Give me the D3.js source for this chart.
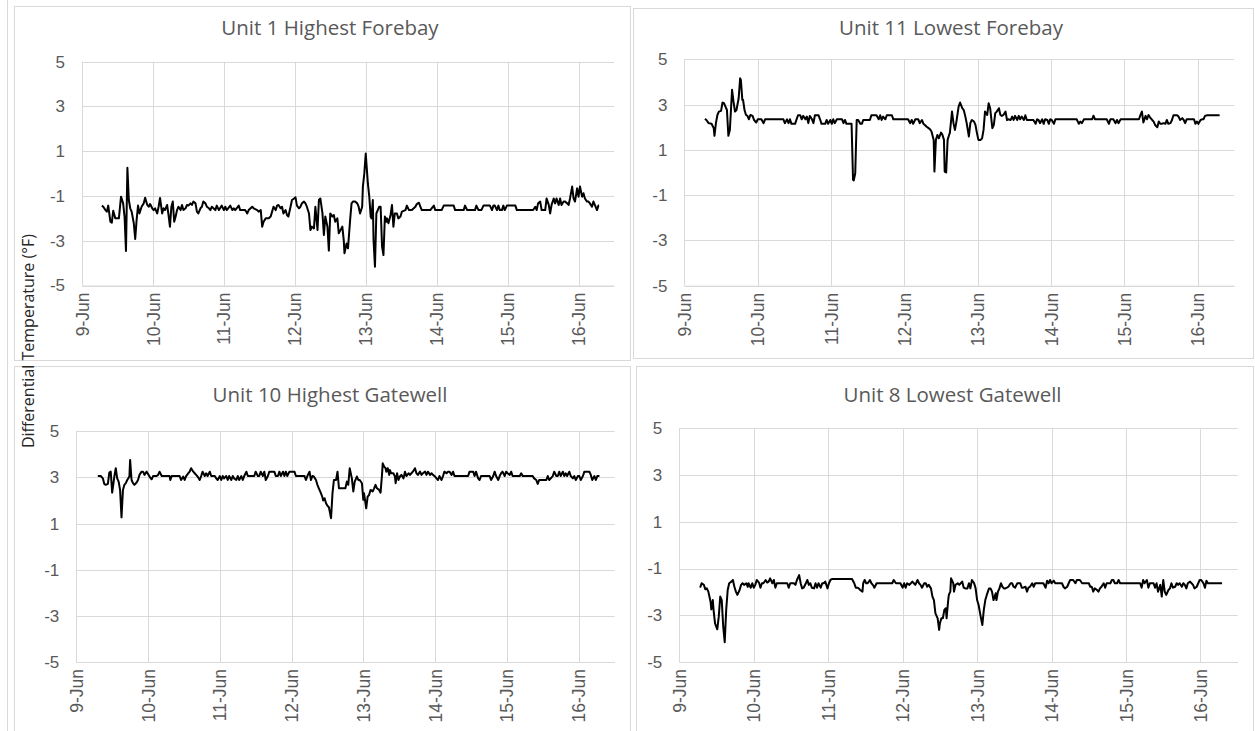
<!DOCTYPE html>
<html>
<head>
<meta charset="utf-8">
<script src="https://cdn.jsdelivr.net/npm/d3@7"></script>
<style>
  body { margin: 0; background: #fff; }
  svg { display: block; font-family: "Open Sans", "Liberation Sans", sans-serif; }
</style>
</head>
<body>
<div id="chart"></div>
<script>
// Tick values and labels (days of June)
const dayTicks = [9, 10, 11, 12, 13, 14, 15, 16];
const dayLabels = ["9-Jun", "10-Jun", "11-Jun", "12-Jun", "13-Jun", "14-Jun", "15-Jun", "16-Jun"];
const yTicks = [-5, -3, -1, 1, 3, 5];
const titles = ["Unit 1 Highest Forebay", "Unit 11 Lowest Forebay", "Unit 10 Highest Gatewell", "Unit 8 Lowest Gatewell"];
const yTitle = "Differential Temperature (°F)";

// Series: [day of June (fractional), differential temp °F]
const unit1Forebay = [[9.28,-1.43],[9.30,-1.48],[9.33,-1.63],[9.35,-1.70],[9.37,-1.43],[9.40,-2.15],[9.42,-2.19],[9.44,-1.66],[9.47,-2.00],[9.52,-2.00],[9.55,-1.03],[9.58,-1.33],[9.60,-1.92],[9.62,-3.46],[9.64,0.26],[9.66,-1.18],[9.68,-1.55],[9.70,-1.70],[9.73,-2.22],[9.75,-2.92],[9.77,-2.07],[9.79,-1.43],[9.81,-1.78],[9.84,-1.48],[9.87,-1.33],[9.89,-1.08],[9.92,-1.40],[9.94,-1.48],[9.96,-1.36],[9.99,-1.55],[10.01,-1.63],[10.03,-1.55],[10.06,-1.78],[10.08,-1.48],[10.10,-1.09],[10.13,-1.78],[10.15,-1.55],[10.17,-1.63],[10.20,-1.40],[10.22,-1.85],[10.24,-2.37],[10.26,-1.48],[10.28,-1.25],[10.30,-2.15],[10.32,-1.92],[10.34,-1.63],[10.36,-1.48],[10.39,-1.63],[10.41,-1.40],[10.43,-1.63],[10.46,-1.55],[10.48,-1.40],[10.50,-1.43],[10.53,-1.33],[10.55,-1.40],[10.57,-1.25],[10.60,-1.33],[10.62,-1.70],[10.64,-1.78],[10.67,-1.55],[10.69,-1.48],[10.71,-1.25],[10.74,-1.33],[10.76,-1.48],[10.79,-1.55],[10.81,-1.63],[10.83,-1.48],[10.88,-1.63],[10.90,-1.43],[10.93,-1.63],[10.97,-1.43],[11.00,-1.63],[11.02,-1.48],[11.04,-1.63],[11.09,-1.43],[11.12,-1.63],[11.14,-1.55],[11.16,-1.63],[11.21,-1.43],[11.23,-1.63],[11.30,-1.63],[11.33,-1.78],[11.35,-1.63],[11.40,-1.48],[11.42,-1.55],[11.47,-1.63],[11.49,-1.70],[11.52,-1.63],[11.54,-2.37],[11.56,-2.15],[11.59,-2.00],[11.63,-2.00],[11.66,-1.92],[11.68,-1.70],[11.70,-1.48],[11.73,-1.63],[11.75,-1.43],[11.77,-1.40],[11.80,-1.55],[11.82,-1.48],[11.84,-1.78],[11.87,-1.63],[11.89,-1.85],[11.91,-1.92],[11.94,-1.48],[11.96,-1.18],[11.99,-1.11],[12.01,-1.06],[12.03,-1.43],[12.06,-1.55],[12.08,-1.48],[12.10,-1.33],[12.13,-1.25],[12.15,-1.33],[12.17,-1.48],[12.20,-1.78],[12.22,-2.52],[12.24,-2.37],[12.27,-2.45],[12.29,-1.48],[12.32,-2.52],[12.34,-1.18],[12.36,-1.11],[12.39,-1.78],[12.41,-2.74],[12.43,-1.92],[12.46,-2.37],[12.48,-3.44],[12.50,-1.78],[12.53,-1.92],[12.55,-1.85],[12.57,-2.15],[12.60,-2.00],[12.62,-2.67],[12.67,-2.37],[12.69,-2.97],[12.70,-3.56],[12.73,-3.12],[12.75,-3.34],[12.78,-2.07],[12.80,-1.33],[12.82,-1.25],[12.85,-1.25],[12.88,-1.33],[12.90,-1.48],[12.92,-1.78],[12.95,-1.48],[12.96,-0.58],[12.98,0.01],[13.00,0.90],[13.02,0.01],[13.03,-0.44],[13.05,-1.03],[13.07,-1.92],[13.08,-2.00],[13.10,-1.18],[13.11,-2.97],[13.13,-4.16],[13.15,-1.78],[13.17,-1.63],[13.19,-1.48],[13.21,-1.48],[13.23,-3.26],[13.25,-3.64],[13.27,-1.92],[13.29,-2.15],[13.30,-2.00],[13.32,-2.22],[13.35,-1.85],[13.37,-1.40],[13.39,-2.37],[13.41,-1.78],[13.44,-1.78],[13.46,-2.00],[13.49,-1.92],[13.51,-1.70],[13.56,-1.63],[13.58,-1.43],[13.61,-1.63],[13.65,-1.63],[13.70,-1.48],[13.72,-1.36],[13.75,-1.30],[13.77,-1.48],[13.79,-1.63],[13.91,-1.63],[13.96,-1.43],[13.98,-1.63],[14.07,-1.63],[14.10,-1.43],[14.24,-1.43],[14.26,-1.63],[14.38,-1.63],[14.40,-1.43],[14.43,-1.63],[14.54,-1.63],[14.56,-1.43],[14.59,-1.63],[14.63,-1.63],[14.66,-1.43],[14.75,-1.43],[14.78,-1.63],[14.80,-1.43],[14.82,-1.43],[14.85,-1.63],[14.87,-1.43],[14.89,-1.63],[14.92,-1.63],[14.94,-1.43],[14.96,-1.63],[14.99,-1.43],[15.11,-1.43],[15.13,-1.63],[15.36,-1.63],[15.39,-1.48],[15.41,-1.63],[15.43,-1.33],[15.46,-1.25],[15.48,-1.63],[15.53,-1.63],[15.55,-1.11],[15.58,-1.40],[15.60,-1.78],[15.62,-1.40],[15.65,-1.11],[15.67,-1.33],[15.69,-1.11],[15.72,-1.40],[15.74,-1.11],[15.76,-1.40],[15.79,-1.25],[15.81,-1.25],[15.84,-1.33],[15.86,-1.40],[15.88,-1.11],[15.91,-0.58],[15.93,-1.11],[15.95,-1.25],[15.98,-0.66],[16.00,-1.03],[16.02,-0.58],[16.05,-1.03],[16.07,-0.88],[16.09,-1.11],[16.12,-1.25],[16.14,-1.25],[16.16,-1.33],[16.19,-1.48],[16.21,-1.25],[16.23,-1.40],[16.26,-1.63],[16.28,-1.43],[16.29,-1.43]];

const unit11Forebay = [[9.28,2.37],[9.30,2.32],[9.33,2.18],[9.37,2.15],[9.40,1.96],[9.41,1.62],[9.43,2.18],[9.45,2.54],[9.47,2.69],[9.50,2.72],[9.52,3.09],[9.54,3.06],[9.56,2.91],[9.58,2.76],[9.60,1.62],[9.62,1.88],[9.65,3.65],[9.67,3.13],[9.69,2.69],[9.71,2.76],[9.74,3.28],[9.76,4.16],[9.77,4.09],[9.79,3.21],[9.80,3.21],[9.82,2.76],[9.84,2.54],[9.86,2.50],[9.88,2.35],[9.90,2.54],[9.93,2.50],[9.95,2.32],[9.98,2.21],[10.00,2.35],[10.05,2.35],[10.08,2.18],[10.10,2.35],[10.35,2.35],[10.37,2.18],[10.40,2.35],[10.42,2.18],[10.44,2.35],[10.46,2.15],[10.51,2.15],[10.53,2.35],[10.55,2.53],[10.58,2.53],[10.60,2.35],[10.62,2.50],[10.65,2.35],[10.67,2.47],[10.69,2.18],[10.71,2.50],[10.74,2.35],[10.76,2.18],[10.78,2.53],[10.83,2.53],[10.85,2.35],[10.87,2.15],[10.92,2.15],[10.94,2.32],[10.96,2.15],[10.99,2.32],[11.01,2.15],[11.03,2.35],[11.05,2.18],[11.08,2.35],[11.15,2.35],[11.17,2.18],[11.19,2.32],[11.21,2.15],[11.28,2.15],[11.30,-0.32],[11.31,-0.35],[11.33,-0.03],[11.35,2.32],[11.37,2.32],[11.40,2.15],[11.42,2.15],[11.44,2.32],[11.53,2.32],[11.55,2.53],[11.62,2.53],[11.65,2.35],[11.67,2.53],[11.69,2.32],[11.71,2.47],[11.74,2.35],[11.76,2.53],[11.83,2.53],[11.85,2.35],[12.05,2.35],[12.08,2.18],[12.10,2.32],[12.12,2.15],[12.15,2.35],[12.19,2.35],[12.21,2.18],[12.24,2.32],[12.26,2.15],[12.28,2.10],[12.30,2.03],[12.33,1.96],[12.35,1.91],[12.37,1.81],[12.40,1.44],[12.41,0.04],[12.43,1.44],[12.45,1.66],[12.47,1.51],[12.50,1.76],[12.52,1.66],[12.54,1.44],[12.55,0.04],[12.57,0.00],[12.59,1.44],[12.61,1.66],[12.62,1.74],[12.65,2.69],[12.67,2.18],[12.69,1.88],[12.71,2.25],[12.74,2.91],[12.76,3.09],[12.79,2.84],[12.81,2.76],[12.83,2.50],[12.85,2.18],[12.88,1.59],[12.90,2.18],[12.92,2.32],[12.95,2.25],[12.97,2.10],[12.99,1.74],[13.01,1.44],[13.04,1.44],[13.06,1.51],[13.08,1.88],[13.10,2.69],[13.13,2.54],[13.15,3.06],[13.17,2.84],[13.20,1.96],[13.22,2.10],[13.24,2.62],[13.26,2.69],[13.29,2.84],[13.31,2.54],[13.33,2.50],[13.35,2.54],[13.38,2.69],[13.40,2.32],[13.42,2.35],[13.45,2.32],[13.47,2.47],[13.49,2.32],[13.51,2.50],[13.54,2.32],[13.56,2.50],[13.58,2.35],[13.60,2.47],[13.63,2.32],[13.65,2.53],[13.67,2.32],[13.76,2.32],[13.79,2.15],[13.81,2.35],[13.83,2.32],[13.85,2.18],[13.88,2.35],[13.90,2.15],[13.92,2.35],[13.95,2.32],[13.97,2.15],[13.99,2.35],[14.01,2.32],[14.04,2.15],[14.06,2.35],[14.35,2.35],[14.38,2.15],[14.40,2.25],[14.42,2.18],[14.45,2.35],[14.56,2.35],[14.58,2.51],[14.60,2.35],[14.76,2.35],[14.79,2.15],[14.81,2.35],[14.85,2.35],[14.88,2.18],[14.90,2.32],[14.92,2.18],[14.95,2.35],[15.20,2.35],[15.22,2.54],[15.24,2.69],[15.26,2.21],[15.29,2.50],[15.31,2.35],[15.33,2.54],[15.35,2.44],[15.38,2.32],[15.40,2.25],[15.42,2.10],[15.45,2.00],[15.47,2.25],[15.49,2.15],[15.51,2.15],[15.54,2.18],[15.56,2.15],[15.58,2.32],[15.60,2.15],[15.63,2.18],[15.65,2.32],[15.67,2.53],[15.72,2.53],[15.74,2.47],[15.76,2.32],[15.79,2.40],[15.81,2.32],[15.83,2.18],[15.85,2.35],[15.95,2.35],[15.97,2.15],[15.99,2.25],[16.01,2.15],[16.04,2.32],[16.06,2.35],[16.08,2.35],[16.10,2.50],[16.13,2.53],[16.30,2.53]];

const unit10Gatewell = [[9.30,3.06],[9.34,3.06],[9.37,2.96],[9.39,2.72],[9.41,2.68],[9.44,2.72],[9.46,3.21],[9.48,3.25],[9.50,2.34],[9.53,3.04],[9.55,3.40],[9.57,2.96],[9.59,2.82],[9.61,2.46],[9.63,1.27],[9.65,2.46],[9.67,2.68],[9.69,2.75],[9.71,2.89],[9.74,3.04],[9.75,3.76],[9.77,2.89],[9.79,2.75],[9.81,2.68],[9.84,2.78],[9.86,2.89],[9.88,3.11],[9.91,3.25],[9.93,3.25],[9.95,3.11],[9.98,3.25],[10.00,3.15],[10.02,3.04],[10.05,2.92],[10.07,3.06],[10.12,3.06],[10.14,3.11],[10.16,3.25],[10.19,3.06],[10.30,3.06],[10.31,2.89],[10.33,3.06],[10.44,3.06],[10.46,2.89],[10.49,3.04],[10.51,2.89],[10.53,3.06],[10.56,3.18],[10.58,3.25],[10.60,3.40],[10.63,3.25],[10.65,3.18],[10.67,3.11],[10.69,3.04],[10.72,2.89],[10.74,3.06],[10.76,3.25],[10.79,3.06],[10.81,3.18],[10.83,3.06],[10.86,3.25],[10.88,3.06],[10.93,3.06],[10.95,2.96],[10.97,2.89],[11.00,3.06],[11.02,2.89],[11.04,3.06],[11.06,2.96],[11.09,3.06],[11.11,2.89],[11.13,3.06],[11.16,2.89],[11.18,3.06],[11.20,2.96],[11.23,2.89],[11.25,3.06],[11.27,2.89],[11.30,3.06],[11.32,2.89],[11.34,3.06],[11.37,3.25],[11.39,3.06],[11.48,3.06],[11.50,3.25],[11.53,3.06],[11.55,3.06],[11.57,3.25],[11.60,3.06],[11.62,3.25],[11.64,2.89],[11.67,3.06],[11.69,3.25],[11.76,3.25],[11.78,3.06],[11.81,3.06],[11.83,3.25],[11.85,3.06],[11.88,3.25],[11.90,3.06],[11.92,3.25],[11.94,3.06],[11.97,3.25],[12.04,3.25],[12.06,3.06],[12.18,3.06],[12.20,2.89],[12.22,3.06],[12.25,3.25],[12.27,2.89],[12.29,3.06],[12.31,3.04],[12.34,2.89],[12.36,2.68],[12.38,2.53],[12.41,2.31],[12.43,2.14],[12.44,2.00],[12.46,2.10],[12.48,1.88],[12.50,1.77],[12.52,1.71],[12.55,1.23],[12.57,2.31],[12.59,2.89],[12.62,2.89],[12.64,3.25],[12.66,2.53],[12.72,2.53],[12.75,2.53],[12.77,2.82],[12.79,2.68],[12.81,3.40],[12.84,2.96],[12.86,2.39],[12.88,2.82],[12.91,3.04],[12.93,2.89],[12.95,2.89],[12.98,2.75],[13.00,2.03],[13.01,2.31],[13.04,1.66],[13.06,2.17],[13.08,2.24],[13.10,2.46],[13.13,2.39],[13.15,2.53],[13.17,2.68],[13.19,2.53],[13.22,2.46],[13.24,2.34],[13.26,3.11],[13.27,3.61],[13.29,3.47],[13.31,3.40],[13.32,3.25],[13.34,3.40],[13.36,3.11],[13.37,3.32],[13.39,3.18],[13.42,3.18],[13.44,3.04],[13.45,2.75],[13.47,3.18],[13.49,2.89],[13.51,3.04],[13.53,3.11],[13.56,2.96],[13.58,3.25],[13.60,3.06],[13.63,3.18],[13.65,3.11],[13.67,3.18],[13.69,3.25],[13.72,3.40],[13.74,3.18],[13.76,3.11],[13.79,3.25],[13.81,3.11],[13.83,3.18],[13.86,3.25],[13.88,3.11],[13.90,3.25],[13.93,3.11],[13.95,3.18],[13.97,3.11],[14.00,3.04],[14.02,2.96],[14.04,2.89],[14.06,3.06],[14.09,2.89],[14.11,3.06],[14.13,3.25],[14.16,3.18],[14.18,3.25],[14.20,3.25],[14.23,3.11],[14.25,3.25],[14.27,3.06],[14.46,3.06],[14.48,3.25],[14.53,3.25],[14.55,3.06],[14.57,3.25],[14.60,2.96],[14.62,2.89],[14.64,3.06],[14.76,3.06],[14.78,2.89],[14.81,3.06],[14.83,3.25],[14.85,3.06],[14.88,2.89],[14.90,3.06],[14.92,3.18],[14.94,3.25],[14.97,3.06],[14.99,3.25],[15.01,3.18],[15.04,3.11],[15.06,3.25],[15.08,3.06],[15.18,3.06],[15.20,3.18],[15.22,3.06],[15.36,3.06],[15.38,2.96],[15.41,2.89],[15.43,2.72],[15.45,2.89],[15.55,2.89],[15.57,3.06],[15.59,2.89],[15.64,3.06],[15.66,3.25],[15.69,3.06],[15.71,3.06],[15.73,3.25],[15.75,3.06],[15.78,3.25],[15.80,3.06],[15.82,3.18],[15.84,3.06],[15.87,3.25],[15.89,3.06],[15.92,2.96],[15.94,3.06],[15.96,2.89],[15.99,3.06],[16.01,3.06],[16.03,2.89],[16.06,3.06],[16.08,3.25],[16.15,3.25],[16.17,3.11],[16.19,2.89],[16.22,3.06],[16.24,2.89],[16.26,3.06],[16.29,3.06]];

const unit8Gatewell = [[9.28,-1.82],[9.30,-1.63],[9.33,-1.70],[9.35,-1.89],[9.37,-1.85],[9.39,-1.99],[9.42,-2.42],[9.43,-2.75],[9.45,-2.35],[9.46,-2.77],[9.48,-3.35],[9.51,-3.60],[9.53,-3.06],[9.55,-2.20],[9.57,-2.35],[9.59,-3.49],[9.61,-4.15],[9.63,-2.77],[9.65,-1.92],[9.67,-1.63],[9.70,-1.56],[9.72,-1.49],[9.74,-1.78],[9.76,-1.99],[9.78,-2.13],[9.81,-1.92],[9.83,-1.70],[9.85,-1.63],[9.87,-1.70],[9.90,-1.63],[9.92,-1.78],[9.93,-1.63],[9.96,-1.82],[9.98,-1.63],[10.00,-1.82],[10.02,-1.70],[10.04,-1.49],[10.07,-1.60],[10.09,-1.82],[10.11,-1.63],[10.13,-1.63],[10.16,-1.49],[10.18,-1.60],[10.20,-1.56],[10.22,-1.42],[10.25,-1.63],[10.27,-1.49],[10.29,-1.82],[10.31,-1.63],[10.45,-1.63],[10.47,-1.82],[10.49,-1.63],[10.54,-1.63],[10.56,-1.70],[10.58,-1.49],[10.61,-1.28],[10.63,-1.63],[10.65,-1.85],[10.67,-1.82],[10.70,-1.63],[10.72,-1.49],[10.74,-1.70],[10.76,-1.63],[10.78,-1.82],[10.81,-1.85],[10.83,-1.63],[10.85,-1.82],[10.87,-1.63],[10.90,-1.82],[10.92,-1.63],[10.94,-1.63],[10.96,-1.56],[10.99,-1.85],[11.01,-1.63],[11.03,-1.49],[11.05,-1.45],[11.32,-1.45],[11.35,-1.63],[11.37,-1.82],[11.39,-1.82],[11.41,-1.85],[11.43,-1.92],[11.46,-1.99],[11.47,-1.63],[11.49,-1.49],[11.51,-1.63],[11.53,-1.63],[11.56,-1.49],[11.58,-1.63],[11.60,-1.70],[11.62,-1.82],[11.65,-1.63],[11.86,-1.63],[11.88,-1.49],[11.91,-1.63],[11.97,-1.63],[12.00,-1.82],[12.02,-1.63],[12.04,-1.82],[12.06,-1.63],[12.09,-1.70],[12.11,-1.63],[12.13,-1.56],[12.15,-1.63],[12.17,-1.70],[12.20,-1.49],[12.22,-1.63],[12.24,-1.70],[12.26,-1.82],[12.29,-1.63],[12.31,-1.63],[12.33,-1.78],[12.35,-1.70],[12.38,-1.85],[12.40,-2.20],[12.42,-2.35],[12.44,-2.92],[12.47,-3.13],[12.49,-3.63],[12.50,-3.35],[12.52,-3.13],[12.54,-3.13],[12.56,-2.77],[12.58,-2.70],[12.59,-3.13],[12.61,-2.42],[12.62,-2.13],[12.64,-1.99],[12.65,-1.42],[12.68,-1.63],[12.69,-1.99],[12.71,-1.70],[12.74,-1.63],[12.76,-1.70],[12.78,-1.63],[12.80,-1.56],[12.82,-1.82],[12.84,-1.85],[12.87,-1.85],[12.89,-1.63],[12.91,-1.85],[12.93,-1.49],[12.96,-1.63],[12.98,-1.85],[13.00,-2.35],[13.02,-2.56],[13.04,-2.92],[13.07,-3.42],[13.09,-2.77],[13.11,-2.35],[13.13,-2.13],[13.16,-1.85],[13.18,-1.85],[13.20,-1.99],[13.22,-2.35],[13.25,-2.06],[13.26,-2.35],[13.28,-1.99],[13.30,-1.85],[13.32,-1.63],[13.34,-1.78],[13.36,-1.85],[13.38,-1.85],[13.40,-1.82],[13.42,-1.78],[13.45,-1.63],[13.47,-1.63],[13.49,-1.78],[13.51,-1.82],[13.54,-1.63],[13.58,-1.63],[13.60,-1.82],[13.62,-1.82],[13.65,-1.78],[13.67,-1.99],[13.69,-1.82],[13.71,-1.78],[13.74,-1.63],[13.76,-1.78],[13.78,-1.63],[13.89,-1.63],[13.92,-1.82],[13.94,-1.52],[13.96,-1.63],[13.98,-1.49],[14.00,-1.63],[14.03,-1.52],[14.05,-1.63],[14.14,-1.63],[14.16,-1.78],[14.18,-1.85],[14.21,-1.78],[14.23,-1.63],[14.25,-1.49],[14.29,-1.49],[14.32,-1.63],[14.34,-1.49],[14.38,-1.49],[14.41,-1.63],[14.50,-1.63],[14.52,-1.78],[14.54,-1.78],[14.56,-1.99],[14.58,-1.85],[14.61,-1.92],[14.63,-1.99],[14.65,-1.85],[14.67,-1.78],[14.70,-1.63],[14.72,-1.82],[14.74,-1.63],[14.79,-1.63],[14.81,-1.49],[14.83,-1.49],[14.85,-1.63],[14.88,-1.63],[14.90,-1.49],[14.92,-1.63],[15.19,-1.63],[15.21,-1.82],[15.23,-1.49],[15.25,-1.63],[15.28,-1.49],[15.30,-1.82],[15.32,-1.63],[15.37,-1.63],[15.39,-1.82],[15.41,-1.63],[15.43,-1.99],[15.46,-1.70],[15.48,-2.20],[15.50,-1.49],[15.52,-1.99],[15.54,-2.13],[15.57,-1.92],[15.59,-1.85],[15.61,-1.63],[15.63,-1.82],[15.66,-1.78],[15.68,-1.63],[15.70,-1.70],[15.72,-1.63],[15.75,-1.78],[15.77,-1.63],[15.79,-1.70],[15.81,-1.85],[15.83,-1.63],[15.86,-1.56],[15.88,-1.63],[15.90,-1.70],[15.92,-1.85],[15.95,-1.78],[15.97,-1.63],[15.99,-1.49],[16.01,-1.49],[16.04,-1.63],[16.06,-1.82],[16.08,-1.52],[16.10,-1.63],[16.29,-1.63]];

const series = [unit1Forebay, unit11Forebay, unit10Gatewell, unit8Gatewell];

// Page size
const W = 1255, H = 731;

// Panel boxes and plot areas (left, right, top, bottom)
const layout = [
    { box: [14, 6, 616, 354],  plot: [82, 614, 61.7, 285.5],  titleY: 35 },
    { box: [633, 8, 620, 350], plot: [684.4, 1234.3, 59.3, 285.7], titleY: 35 },
    { box: [14, 366, 616, 372], plot: [76.3, 614.5, 431.3, 662], titleY: 402 },
    { box: [636, 366, 617, 372], plot: [679.3, 1237.7, 428.3, 662], titleY: 402 }
];

const svg = d3.select("#chart")
    .append("svg")
    .attr("width", W)
    .attr("height", H);

svg.append("rect").attr("width", W).attr("height", H).attr("fill", "#fff");

// outer frame line on the left
svg.append("line")
    .attr("x1", 7.5).attr("x2", 7.5)
    .attr("y1", 0).attr("y2", H)
    .attr("stroke", "#d9d9d9");

const drawPanel = (data, title, lay) => {
    const [bx, by, bw, bh] = lay.box;
    const [left, right, top, bottom] = lay.plot;

    // panel border
    svg.append("rect")
        .attr("x", bx + 0.5).attr("y", by + 0.5)
        .attr("width", bw).attr("height", bh)
        .attr("fill", "#fff")
        .attr("stroke", "#d9d9d9");

    const xScale = d3.scaleLinear().domain([9, 16.5]).range([left, right]);
    const yScale = d3.scaleLinear().domain([-5, 5]).range([bottom, top]);

    const g = svg.append("g");

    // horizontal gridlines
    g.selectAll(".hgrid")
        .data(yTicks)
        .join("line")
        .attr("x1", left).attr("x2", right)
        .attr("y1", d => Math.round(yScale(d)) + 0.5)
        .attr("y2", d => Math.round(yScale(d)) + 0.5)
        .attr("stroke", "#d9d9d9");

    // vertical gridlines
    g.selectAll(".vgrid")
        .data(dayTicks)
        .join("line")
        .attr("x1", d => Math.round(xScale(d)) + 0.5)
        .attr("x2", d => Math.round(xScale(d)) + 0.5)
        .attr("y1", top).attr("y2", bottom)
        .attr("stroke", "#d9d9d9");

    // y axis labels (plain hyphen minus, like Excel)
    const yAxis = d3.axisLeft(yScale)
        .tickValues(yTicks)
        .tickSize(0)
        .tickPadding(17)
        .tickFormat(d => String(d));
    const ya = g.append("g")
        .attr("transform", `translate(${left},0)`)
        .call(yAxis);
    ya.select(".domain").remove();
    ya.selectAll("text")
        .attr("fill", "#595959")
        .style("font-size", "17px");

    // x axis labels (rotated)
    const xAxis = d3.axisBottom(xScale)
        .tickValues(dayTicks)
        .tickSize(0)
        .tickFormat((d, i) => dayLabels[i]);
    const xa = g.append("g")
        .attr("transform", `translate(0,${bottom})`)
        .call(xAxis);
    xa.select(".domain")
        .attr("stroke", "#d9d9d9");
    xa.selectAll("text")
        .attr("fill", "#595959")
        .style("font-size", "17.5px")
        .attr("text-anchor", "end")
        .attr("transform", "rotate(-90)")
        .attr("x", -7)
        .attr("y", 0)
        .attr("dy", "0.35em");

    // title
    g.append("text")
        .attr("x", bx + bw / 2 + 8)
        .attr("y", lay.titleY)
        .attr("text-anchor", "middle")
        .attr("fill", "#595959")
        .style("font-size", "20.5px")
        .text(title);

    // data line
    const line = d3.line()
        .x(d => xScale(d[0]))
        .y(d => yScale(d[1]));

    g.append("path")
        .datum(data)
        .attr("d", line)
        .attr("fill", "none")
        .attr("stroke", "#000")
        .attr("stroke-width", 2)
        .attr("stroke-linejoin", "round");
};

series.forEach((s, i) => drawPanel(s, titles[i], layout[i]));

// shared y axis title
svg.append("text")
    .attr("transform", "translate(34,341) rotate(-90)")
    .attr("text-anchor", "middle")
    .attr("fill", "#262626")
    .style("font-size", "16px")
    .text(yTitle);
</script>
</body>
</html>
